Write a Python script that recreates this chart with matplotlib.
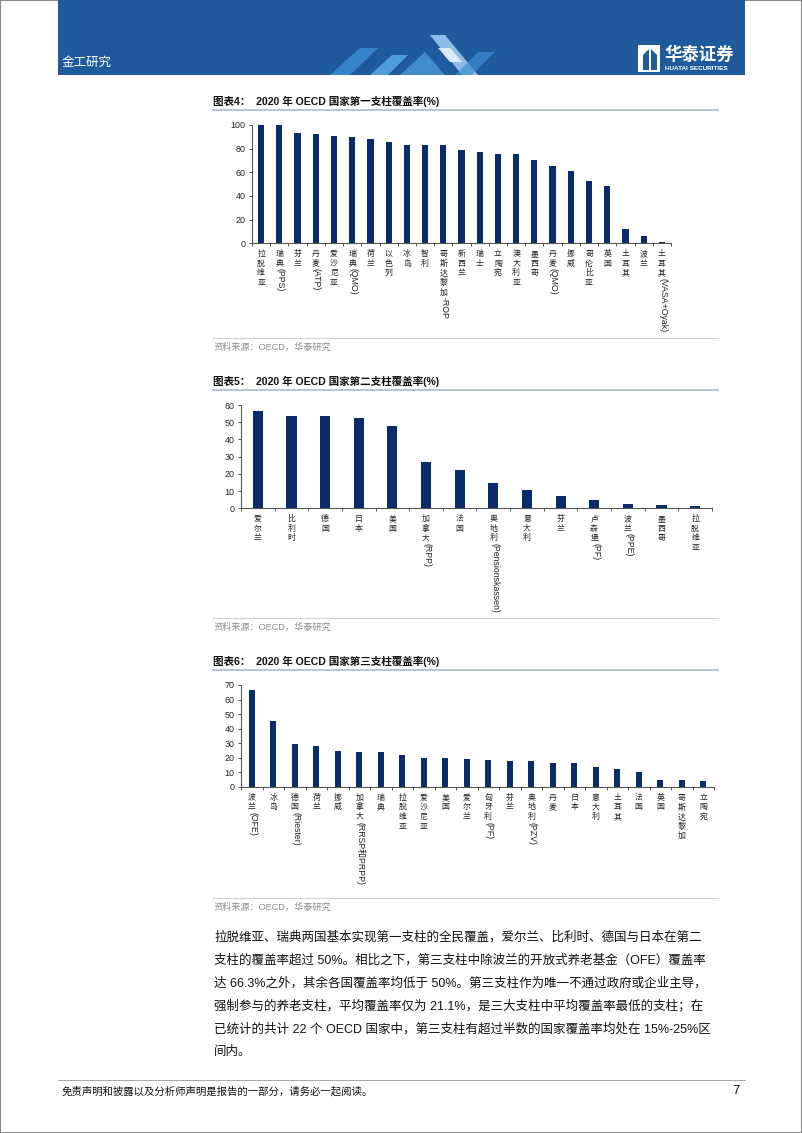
import matplotlib
matplotlib.use('Agg')
import matplotlib.pyplot as plt
import matplotlib.transforms as mtrans
from matplotlib.patches import Rectangle, Polygon

W, H = 802, 1133
CJK = 'Noto Sans CJK SC'
MIX = ['Liberation Sans', 'Noto Sans CJK SC']
BAR = '#0a2c6c'

# chart 4: first pillar
c1 = ['拉脱维亚', '瑞典(PPS)', '芬兰', '丹麦(ATP)', '爱沙尼亚', '瑞典(QMO)', '荷兰', '以色列', '冰岛', '智利',
      '哥斯达黎加-ROP', '新西兰', '瑞士', '立陶宛', '澳大利亚', '墨西哥', '丹麦(QMO)', '挪威', '哥伦比亚', '英国',
      '土耳其', '波兰', '土耳其(VASA+Oyak)']
v1 = [100, 100, 93, 92, 90.7, 89.8, 87.9, 85.4, 83.1, 83, 82.8, 78.6, 77.2, 75.5, 75.2, 70.1, 65, 61.1, 52.4, 48.7,
      11.8, 6.2, 1.1]

# chart 5: second pillar
c2 = ['爱尔兰', '比利时', '德国', '日本', '美国', '加拿大(RPP)', '法国', '奥地利(Pensionskassen)', '意大利', '芬兰',
      '卢森堡(PF)', '波兰(PPE)', '墨西哥', '拉脱维亚']
v2 = [56.7, 53.8, 53.8, 52.3, 48, 26.7, 22.1, 14.9, 10.6, 7, 5, 2.5, 1.9, 1.1]

# chart 6: third pillar
c3 = ['波兰(OFE)', '冰岛', '德国(Riester)', '荷兰', '挪威', '加拿大(RRSP和PRPP)', '瑞典', '拉脱维亚', '爱沙尼亚', '美国',
      '爱尔兰', '匈牙利(PF)', '芬兰', '奥地利(PZV)', '丹麦', '日本', '意大利', '土耳其', '法国', '英国', '哥斯达黎加', '立陶宛']
v3 = [66.3, 45.3, 29.7, 27.9, 24.5, 24, 24, 21.7, 19.7, 19.7, 19.4, 18.3, 17.8, 17.8, 16.7, 16.5, 13.7, 12.6, 10.5,
      4.8, 4.5, 4.0]

titles = ['图表4：  2020 年 OECD 国家第一支柱覆盖率(%)',
          '图表5：  2020 年 OECD 国家第二支柱覆盖率(%)',
          '图表6：  2020 年 OECD 国家第三支柱覆盖率(%)']
source = '资料来源：OECD，华泰研究'

body = ['拉脱维亚、瑞典两国基本实现第一支柱的全民覆盖，爱尔兰、比利时、德国与日本在第二',
        '支柱的覆盖率超过 50%。相比之下，第三支柱中除波兰的开放式养老基金（OFE）覆盖率',
        '达 66.3%之外，其余各国覆盖率均低于 50%。第三支柱作为唯一不通过政府或企业主导，',
        '强制参与的养老支柱，平均覆盖率仅为 21.1%，是三大支柱中平均覆盖率最低的支柱；在',
        '已统计的共计 22 个 OECD 国家中，第三支柱有超过半数的国家覆盖率均处在 15%-25%区',
        '间内。']

fig = plt.figure(figsize=(W / 100, H / 100), dpi=100)
renderer = fig.canvas.get_renderer()


def fx(x):
    return x / W


def fy(y):
    return 1 - y / H


def ftext(x, y, s, **kw):
    return fig.text(fx(x), fy(y), s, **kw)


def is_cjk(ch):
    return '\u4e00' <= ch <= '\u9fff'


def runs(s):
    # chinese chars stand upright, everything from "(" or a latin char on is one rotated run
    out = []
    depth = 0
    for ch in s:
        if ch == '(':
            depth += 1
        if is_cjk(ch) and depth == 0:
            out.append(('c', ch))
        elif out and out[-1][0] == 'l':
            out[-1] = ('l', out[-1][1] + ch)
        else:
            out.append(('l', ch))
        if ch == ')':
            depth -= 1
    return out


def vlabels(ax, labels, pad=4.2):
    base = mtrans.blended_transform_factory(ax.transData, ax.transAxes)
    for i, lab in enumerate(labels):
        y = pad
        for kind, s in runs(lab):
            tr = mtrans.offset_copy(base, fig=fig, x=0, y=-y, units='points')
            if kind == 'c':
                ax.text(i, 0, s, transform=tr, ha='center', va='top', fontsize=5.7,
                        family=CJK, color='#222222', clip_on=False)
                y += 6.9
            else:
                t = ax.text(i + 0.04, 0, s, transform=tr, rotation=-90, ha='center', va='top',
                            fontsize=6.3, family=MIX, color='#222222', clip_on=False)
                y += t.get_window_extent(renderer).height * 72 / fig.dpi + 0.6


def chart(cats, vals, left, right, y0, ytop, ymax, step, width):
    ax = fig.add_axes([fx(left), fy(y0), (right - left) / W, (y0 - ytop) / H])
    ax.bar(range(len(cats)), vals, width=width, color=BAR, zorder=2)
    ax.set_xlim(-0.5, len(cats) - 0.5)
    ax.set_ylim(0, ymax)
    ax.set_yticks(range(0, ymax + 1, step))
    ax.set_xticks([i - 0.5 for i in range(len(cats) + 1)])
    ax.set_xticklabels([])
    for s in ['top', 'right']:
        ax.spines[s].set_visible(False)
    for s in ['left', 'bottom']:
        ax.spines[s].set_color('#555555')
        ax.spines[s].set_linewidth(0.8)
    ax.tick_params(direction='out', length=2.5, width=0.7, color='#555555',
                   labelsize=6.4, labelcolor='#222222', pad=2)
    for t in ax.get_yticklabels():
        t.set_family('Liberation Sans')
    ax.set_facecolor('none')
    vlabels(ax, cats)
    return ax


# page frame
fig.add_artist(Rectangle((0, 0), 1, 1, transform=fig.transFigure, fill=False,
                         edgecolor='#8a8a8a', lw=1.5))

# header banner
fig.add_artist(Rectangle((fx(58), fy(75)), (745 - 58) / W, 75 / H, transform=fig.transFigure,
                         facecolor='#1f5a9c', edgecolor='none'))
for pts, col, a in [
    ([(330, 75), (360, 48), (378, 48), (350, 75)], '#3d8fd6', 0.8),
    ([(370, 75), (392, 55), (408, 55), (388, 75)], '#5aaee8', 0.8),
    ([(400, 75), (425, 52), (445, 75)], '#4fa0e0', 0.7),
    ([(430, 35), (445, 35), (478, 75), (462, 75)], '#9cc8f0', 0.9),
    ([(438, 48), (450, 48), (462, 62), (450, 62)], '#e8f2fb', 0.9),
    ([(455, 75), (478, 52), (495, 52), (472, 75)], '#3d8fd6', 0.7),
]:
    fig.add_artist(Polygon([(fx(x), fy(y)) for x, y in pts], closed=True, transform=fig.transFigure,
                           facecolor=col, edgecolor='none', alpha=a))
ftext(62, 62, '金工研究', fontsize=9, color='white', family=CJK, va='center')
fig.add_artist(Rectangle((fx(638), fy(72)), 22 / W, 27 / H, transform=fig.transFigure,
                         facecolor='white', edgecolor='none'))
fig.add_artist(Polygon([(fx(x), fy(y)) for x, y in [(643, 55), (649, 49), (649, 70), (643, 70)]],
                       closed=True, transform=fig.transFigure, facecolor='#1f5a9c', edgecolor='none'))
fig.add_artist(Polygon([(fx(x), fy(y)) for x, y in [(651, 49), (657, 55), (657, 70), (651, 70)]],
                       closed=True, transform=fig.transFigure, facecolor='#1f5a9c', edgecolor='none'))
ftext(664, 55, '华泰证券', fontsize=12.5, color='white', family=CJK, fontweight='bold', va='center')
ftext(665, 68.5, 'HUATAI SECURITIES', fontsize=4.6, color='white', family='Liberation Sans',
      fontweight='bold', va='center')

# charts
layout = [
    (c1, v1, 252, 671, 243.3, 125, 100, 20, 0.34, 101, 110, 338, 347),
    (c2, v2, 241, 712, 508.3, 405, 60, 10, 0.3, 381.5, 390, 618, 627),
    (c3, v3, 241, 714, 787, 685, 70, 10, 0.3, 661.5, 670, 898, 907),
]
for k, (cats, vals, l, r, y0, yt, ym, st, bw, ty, tl, sl, sy) in enumerate(layout):
    chart(cats, vals, l, r, y0, yt, ym, st, bw)
    ftext(213, ty, titles[k], fontsize=7.6, fontweight='bold', family=MIX, va='center', color='#111111')
    fig.add_artist(plt.Line2D([fx(213), fx(718)], [fy(tl), fy(tl)], transform=fig.transFigure,
                              color='#b4c0cc', lw=1.3))
    fig.add_artist(plt.Line2D([fx(213), fx(718)], [fy(sl), fy(sl)], transform=fig.transFigure,
                              color='#c8d0d8', lw=0.8))
    ftext(214, sy, source, fontsize=6.6, family=MIX, color='#8c8c8c', va='center')

# body paragraph
for i, line in enumerate(body):
    ftext(214, 937 + i * 23, line, fontsize=9.0, family=MIX, color='#111111', va='center')

# footer
fig.add_artist(plt.Line2D([fx(58), fx(745)], [fy(1080), fy(1080)], transform=fig.transFigure,
                          color='#999999', lw=0.6))
ftext(62, 1091, '免责声明和披露以及分析师声明是报告的一部分，请务必一起阅读。', fontsize=7.5,
      family=CJK, style='italic', color='#111111', va='center')
ftext(740, 1091, '7', fontsize=9.5, family='Liberation Sans', color='#111111', va='center', ha='right')

fig.savefig('out.png', dpi=100)
